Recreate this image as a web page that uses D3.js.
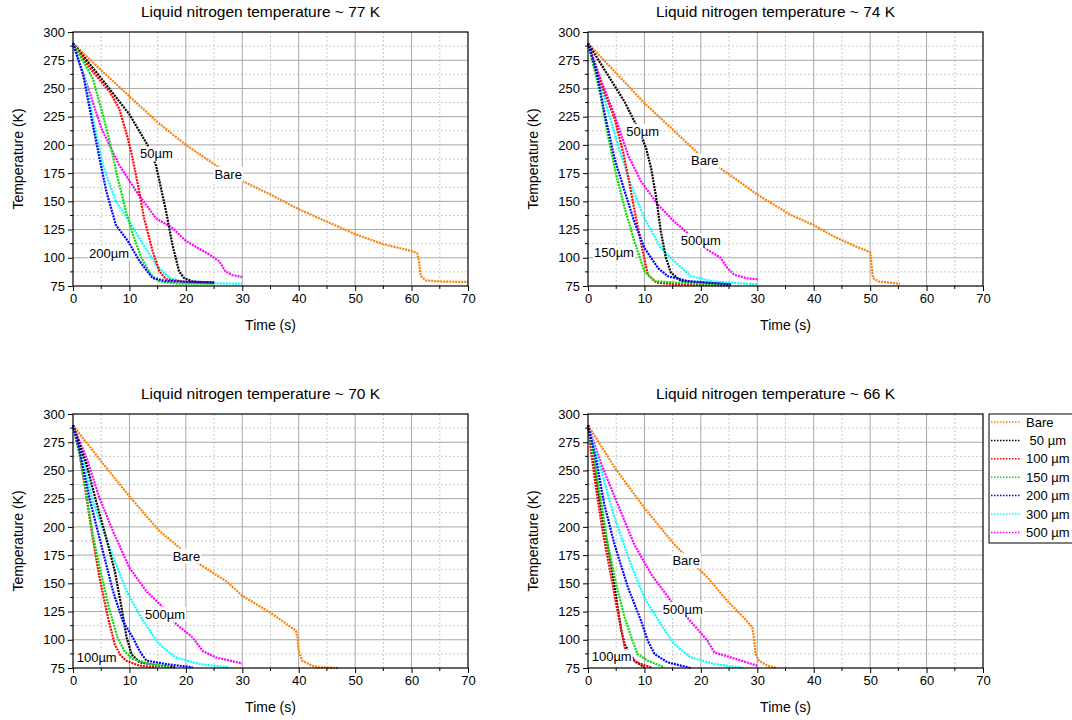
<!DOCTYPE html>
<html>
<head>
<meta charset="utf-8">
<script src="https://cdn.jsdelivr.net/npm/d3@7"></script>
<style>
  body { margin: 0; background: #fff; }
  svg { font-family: "Liberation Sans", Arial, sans-serif; }
</style>
</head>
<body>
<div id="chart"></div>
<script>
// ---- data: [time (s), temperature (K)] ----
// 77 K bath
var bare77 = [[0,290],[5,266],[10,243],[15,220],[20,200],[25,183],[30,168],[35,156],[40,143],[45,132],[50,121],[55,112],[60,106],[61,104],[61.3,97],[61.6,84],[62.5,80],[65,79],[70,78.5]]
var um50_77 = [[0,290],[5,259],[10,227],[13.2,200],[14.7,182],[16.5,141],[17.6,112],[18.8,88],[19.7,82],[21.2,79],[25,78]]
var um100_77 = [[0,290],[3,268],[6.5,247],[8.2,232],[9.7,206],[10.3,194],[11.5,165],[12.6,135],[14.1,106],[15.3,88],[16.5,81],[20,78.5],[25,78]]
var um150_77 = [[0,290],[3.5,259],[5,232],[6.5,203],[7.9,171],[9.4,141],[10.6,121],[12.1,100],[13.8,85],[15.3,79],[18.8,77],[25,77]]
var um200_77 = [[0,290],[1.8,262],[3.5,218],[4.7,188],[5.9,159],[7.6,129],[9.7,115],[11.8,97],[14.1,82],[16.5,79.4],[25,78]]
var um300_77 = [[0,290],[2.1,259],[3.5,224],[5.3,182],[7.6,150],[10,132],[12.4,112],[14.7,94],[17.1,82],[20,78],[30,77]]
var um500_77 = [[0,290],[2.9,247],[5,215],[8.2,182],[11.2,159],[14.7,135],[17.6,126.5],[20,115],[24.1,103],[25.9,97],[27,88],[28.2,84.7],[30,83]]

// 74 K bath
var bare74 = [[0,290],[10,237],[19.4,193],[24.1,177],[30,156],[35.9,138],[40,129],[43.5,119],[47,111],[50,105],[50.2,96],[50.5,82],[51.5,79],[55.3,77]]
var um50_74 = [[0,290],[3.5,262],[6.5,238],[9.1,212],[10.3,197],[11.2,179],[12.1,153],[12.9,123.5],[13.8,100],[14.7,86.8],[16.5,79.4],[25.3,76]]
var um100_74 = [[0,290],[2.4,253],[4.7,223.5],[6.2,194],[7.4,164.7],[8.5,135],[9.7,106],[10.6,85],[12.1,78],[15.3,76.5],[25,75.5]]
var um150_74 = [[0,290],[2.1,247],[3.5,209],[5,173.5],[6.5,144],[8.2,114.7],[10,88],[11.8,79.4],[15.3,78],[20,77],[25.3,76.5]]
var um200_74 = [[0,290],[1.5,264.7],[2.9,229],[4.7,188],[6.5,158.8],[8.2,132],[10,108.8],[12.4,91],[14.1,83.8],[17.6,79.4],[25.3,76.5]]
var um300_74 = [[0,290],[2.4,250],[5.3,200],[7.6,164.7],[10,135],[12.9,108.8],[15.3,97],[18.2,83.8],[22.4,78.8],[30,76.5]]
var um500_74 = [[0,290],[2.4,256],[4.7,226.5],[7.1,191],[9.4,167.6],[12.4,147],[15.3,132],[17.6,122],[21.2,107],[23.5,100],[24.7,91],[25.9,85],[28.2,81.8],[30,81]]

// 70 K bath
var bare70 = [[0,290],[5,258],[10,227],[15.4,196],[22.4,167],[27.1,152],[30,139],[35.4,122.6],[39.5,108],[39.8,102],[40,90],[40.6,81.5],[42.4,77],[43.6,75.6],[47,75]]
var um50_70 = [[0,290],[2.4,255],[4.1,222.6],[5.9,190],[7.4,161],[8.5,131.5],[9.5,102],[10.4,87],[11.8,80],[15.3,77],[18.2,75.6]]
var um100_70 = [[0,290],[1.2,264],[2.4,225.6],[3.5,190],[4.7,155],[6.2,119.7],[7.4,96],[8.3,87],[9.4,81.5],[11.8,77],[14.7,75.6]]
var um150_70 = [[0,290],[1.2,264],[2.4,228.5],[3.5,193],[5,158],[6.5,125.6],[7.9,102],[9.1,90],[10.6,83],[13.6,78.5],[17.1,75.6]]
var um200_70 = [[0,290],[1.2,266.8],[2.9,225.6],[4.7,190],[7.1,143],[8.8,116.8],[10.6,102],[11.8,90],[13,81.5],[16.5,78.5],[21.2,75.6]]
var um300_70 = [[0,290],[1.8,258],[3.5,222.6],[6.5,181.5],[9.5,143],[12.4,116.8],[15.3,96],[18.2,84.4],[22.4,78.5],[27.6,75.6]]
var um500_70 = [[0,290],[2.4,261],[4.7,225.6],[7.1,196],[10,163.8],[13,143],[15.4,131.5],[18.3,113.8],[21.2,102],[23,90],[25.3,84.4],[30,79]]

// 66 K bath
var bare66 = [[0,290],[5,250.6],[10,216.8],[15.3,184.4],[21.2,155],[24.7,134.4],[27.6,119.7],[29.1,111],[29.4,102],[29.7,87.4],[30.3,81.5],[31.8,77],[33.5,75]]
var um50_66 = [[0,290],[0.9,264],[1.8,231.5],[2.9,199],[4.1,166.8],[5,137],[5.9,108],[6.5,96],[8.2,81.5],[10,75.6]]
var um100_66 = [[0,290],[0.6,264],[1.5,231.5],[2.6,196],[3.8,164],[5,131.5],[6.2,102],[6.5,93],[8.5,80],[11.2,75.6]]
var um150_66 = [[0,290],[1.2,258],[2.4,219.7],[3.5,184.4],[5,149],[6.5,119.7],[7.9,99],[8.8,87.4],[10.6,81.5],[13.5,75.6]]
var um200_66 = [[0,290],[1.5,258],[2.9,219.7],[4.7,184.4],[7.1,146],[9.4,116.8],[10.6,99],[11.8,87.4],[14.1,80],[18.2,75]]
var um300_66 = [[0,290],[2.4,249],[4.7,208],[7.6,166.8],[10,137],[12.9,113.8],[15.3,96],[18.2,84.4],[22.4,78.5],[27.6,75]]
var um500_66 = [[0,290],[2.4,255],[5.3,219.7],[8.2,184.4],[11.2,158],[14.7,134.4],[17.6,119.7],[21.2,99],[22.4,88.8],[25.3,84.4],[30,77]]

var seriesNames = ["Bare", " 50 \u00b5m", "100 \u00b5m", "150 \u00b5m", "200 \u00b5m", "300 \u00b5m", "500 \u00b5m"]
var seriesColors = ["#ff8000", "#000000", "#ff0000", "#00e000", "#0000ff", "#00ffff", "#ff00ff"]
var bathTemps = [77, 74, 70, 66]
var xTicks = [0, 10, 20, 30, 40, 50, 60, 70]
var yTicks = [75, 100, 125, 150, 175, 200, 225, 250, 275, 300]

// in-plot annotations [text, time, temperature]
var notes77 = [["50\u00b5m", 14.8, 192], ["Bare", 27.5, 174], ["200\u00b5m", 6.4, 104]]
var notes74 = [["50\u00b5m", 9.7, 212], ["Bare", 20.7, 186], ["500\u00b5m", 20, 115], ["150\u00b5m", 4.6, 104.5]]
var notes70 = [["Bare", 20.1, 174], ["500\u00b5m", 16.3, 122.6], ["100\u00b5m", 4.2, 84]]
var notes66 = [["Bare", 17.4, 170], ["500\u00b5m", 16.8, 127], ["100\u00b5m", 4.2, 85]]

var panels = [
  {bath: bathTemps[0], left: 73, top: 32, series: [bare77, um50_77, um100_77, um150_77, um200_77, um300_77, um500_77], notes: notes77},
  {bath: bathTemps[1], left: 588, top: 32, series: [bare74, um50_74, um100_74, um150_74, um200_74, um300_74, um500_74], notes: notes74},
  {bath: bathTemps[2], left: 73, top: 414, series: [bare70, um50_70, um100_70, um150_70, um200_70, um300_70, um500_70], notes: notes70},
  {bath: bathTemps[3], left: 588, top: 414, series: [bare66, um50_66, um100_66, um150_66, um200_66, um300_66, um500_66], notes: notes66}
]

var width = 1072, height = 720
var pw = 395, ph = 254

var svg = d3.select("#chart").append("svg")
  .attr("width", width)
  .attr("height", height)

var x = d3.scaleLinear().domain([0, 70]).range([0, pw])
var y = d3.scaleLinear().domain([75, 300]).range([ph, 0])

var line = d3.line()
  .x(d => x(d[0]))
  .y(d => y(d[1]))

panels.forEach(p => {
  var g = svg.append("g").attr("transform", `translate(${p.left},${p.top})`)

  // minor grid (dotted)
  g.append("g").selectAll("line")
    .data(d3.range(5, 70, 10))
    .join("line")
      .attr("x1", d => x(d)).attr("x2", d => x(d))
      .attr("y1", 0).attr("y2", ph)
      .attr("stroke", "#c8c8c8").attr("stroke-dasharray", "2,2")
  g.append("g").selectAll("line")
    .data(d3.range(87.5, 300, 25))
    .join("line")
      .attr("x1", 0).attr("x2", pw)
      .attr("y1", d => y(d)).attr("y2", d => y(d))
      .attr("stroke", "#c8c8c8").attr("stroke-dasharray", "2,2")

  // major grid
  g.append("g").selectAll("line")
    .data(xTicks.slice(1, -1))
    .join("line")
      .attr("x1", d => x(d)).attr("x2", d => x(d))
      .attr("y1", 0).attr("y2", ph)
      .attr("stroke", "#a8a8a8")
  g.append("g").selectAll("line")
    .data(yTicks.slice(1, -1))
    .join("line")
      .attr("x1", 0).attr("x2", pw)
      .attr("y1", d => y(d)).attr("y2", d => y(d))
      .attr("stroke", "#a8a8a8")

  // curves, drawn back to front
  var order = [6, 5, 0, 1, 2, 3, 4]
  g.append("g").selectAll("path")
    .data(order)
    .join("path")
      .attr("d", i => line(p.series[i]))
      .attr("fill", "none")
      .attr("stroke", i => seriesColors[i])
      .attr("stroke-width", 2.2)
      .attr("stroke-dasharray", "2,1")

  // annotations with white boxes
  p.notes.forEach(n => {
    var t = g.append("text")
      .attr("x", x(n[1])).attr("y", y(n[2]))
      .attr("dy", "0.35em")
      .attr("text-anchor", "middle")
      .attr("font-size", 13)
      .attr("fill", "#000")
      .text(n[0])
    var bb = t.node().getBBox()
    g.insert("rect", function() { return t.node() })
      .attr("x", bb.x - 1).attr("y", bb.y)
      .attr("width", bb.width + 2).attr("height", bb.height)
      .attr("fill", "#fff")
  })

  // frame
  g.append("rect")
    .attr("width", pw).attr("height", ph)
    .attr("fill", "none").attr("stroke", "#000").attr("stroke-width", 1.2)

  // axes
  var xAxis = d3.axisBottom(x).tickValues(xTicks).tickSize(5).tickSizeOuter(0).tickPadding(3)
  var yAxis = d3.axisLeft(y).tickValues(yTicks).tickSize(5).tickSizeOuter(0).tickPadding(3)

  var gx = g.append("g").attr("transform", `translate(0,${ph})`).call(xAxis)
  var gy = g.append("g").call(yAxis)
  ;[gx, gy].forEach(a => {
    a.select(".domain").remove()
    a.selectAll("text").attr("font-size", 13).attr("fill", "#000").attr("font-family", "Liberation Sans, Arial, sans-serif")
    a.selectAll("line").attr("stroke", "#000")
  })

  // minor ticks
  g.append("g").selectAll("line")
    .data(d3.range(5, 70, 10))
    .join("line")
      .attr("x1", d => x(d)).attr("x2", d => x(d))
      .attr("y1", ph).attr("y2", ph + 3)
      .attr("stroke", "#000")
  g.append("g").selectAll("line")
    .data(d3.range(87.5, 300, 25))
    .join("line")
      .attr("x1", -3).attr("x2", 0)
      .attr("y1", d => y(d)).attr("y2", d => y(d))
      .attr("stroke", "#000")

  // titles
  g.append("text")
    .attr("x", pw / 2 - 10).attr("y", -15)
    .attr("text-anchor", "middle")
    .attr("font-size", 15.5)
    .text(`Liquid nitrogen temperature ~ ${p.bath} K`)

  g.append("text")
    .attr("x", pw / 2).attr("y", ph + 44)
    .attr("text-anchor", "middle")
    .attr("font-size", 14)
    .text("Time (s)")

  g.append("text")
    .attr("transform", `translate(-50,${ph / 2}) rotate(-90)`)
    .attr("text-anchor", "middle")
    .attr("font-size", 14)
    .text("Temperature (K)")
})

// legend, in the bottom right panel's margin
var legend = svg.append("g").attr("transform", "translate(989,414)")
legend.append("rect")
  .attr("width", 90).attr("height", 129)
  .attr("fill", "#fff").attr("stroke", "#000")

var rows = legend.selectAll("g.row")
  .data(seriesNames)
  .join("g")
    .attr("class", "row")
    .attr("transform", (d, i) => `translate(0,${8 + i * 18.4})`)

rows.append("line")
  .attr("x1", 2).attr("x2", 31)
  .attr("stroke", (d, i) => seriesColors[i])
  .attr("stroke-width", 1.5)
  .attr("stroke-dasharray", "1.5,1.5")

rows.append("text")
  .attr("x", 37)
  .attr("dy", "0.35em")
  .attr("font-size", 13)
  .style("white-space", "pre")
  .text(d => d)
</script>
</body>
</html>
